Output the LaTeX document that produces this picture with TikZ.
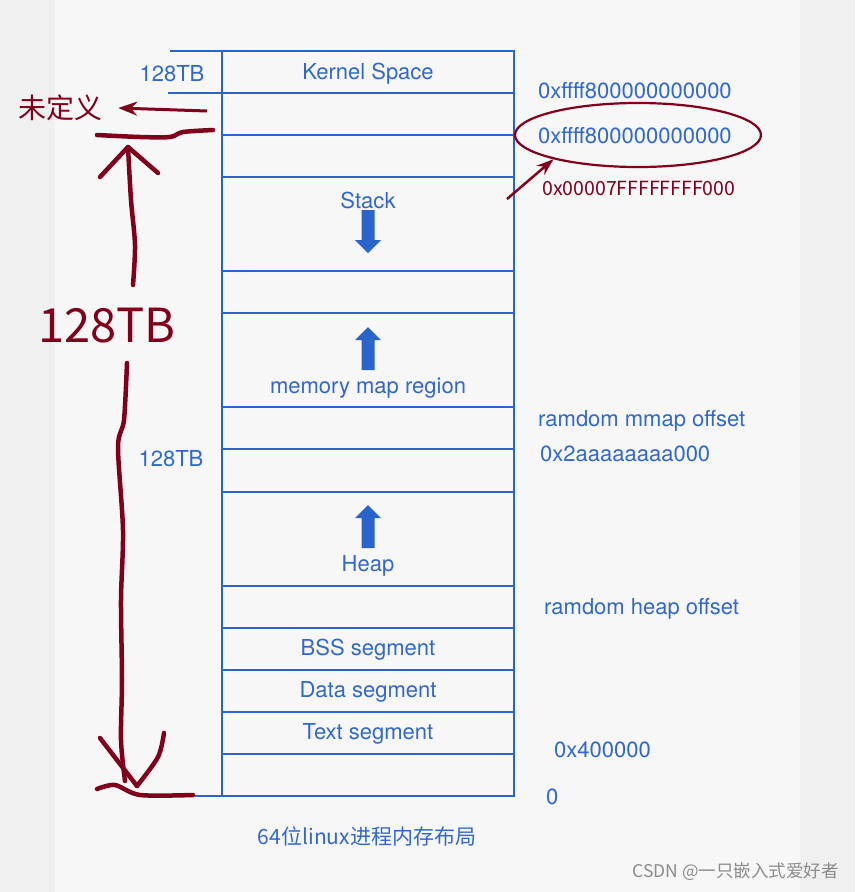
\documentclass[tikz,border=0pt]{standalone}
\usepackage{fontspec}
\setmainfont{TeX Gyre Heros}
\newfontfamily\cjk{Noto Sans CJK SC}
\usetikzlibrary{arrows.meta,shapes.geometric}
\definecolor{memblue}{RGB}{42,100,202}
\definecolor{txtblue}{RGB}{50,104,206}
\definecolor{hand}{RGB}{128,0,28}
\tikzset{
  seg/.style={font=\fontsize{22}{22}\selectfont, text=txtblue, inner sep=0pt, yshift=-2pt},
  addr/.style={seg, anchor=west},
  note/.style={font=\cjk, text=hand, inner sep=0pt},
  stroke/.style={draw=hand, line width=4.5pt, line cap=round, line join=round},
}
\begin{document}
\begin{tikzpicture}[x=1pt, y=-1pt, >={Stealth[length=15pt,width=11pt]}]
  % 背景
  \fill[black!6] (0,0) rectangle (855,892);
  \fill[black!3] (55,0) rectangle (800,892);
  \useasboundingbox (0,0) rectangle (855,892);
  % 地址空间
  \draw[memblue, line width=2pt] (222,51) rectangle (514,796);
  \foreach \y in {93,135,177,271,313,407,449,492,586,628,670,712,754}
    \draw[memblue, line width=2pt] (222,\y) -- (514,\y);
  \draw[memblue, line width=2pt] (170,51) -- (222,51) (168,93) -- (222,93) (195,796) -- (222,796);
  % 增长方向
  \foreach \tip/\s in {253/-1, 327/1, 505/1}
    \fill[memblue] (368,\tip) -- ++(13,13*\s) -- ++(-6.5,0) -- ++(0,30*\s) -- ++(-13,0)
      -- ++(0,-30*\s) -- ++(-6.5,0) -- cycle;
  % 段名
  \node[seg] (kernel) at (368,72) {Kernel Space};
  \node[seg] (stack) at (368,198) {Stack};
  \node[seg] (mmap) at (368,386) {memory map region};
  \node[seg] (heap) at (368,564) {Heap};
  \node[seg] (bss) at (368,648) {BSS segment};
  \node[seg] (data) at (368,690) {Data segment};
  \node[seg] (text) at (368,732) {Text segment};
  \node[seg] (tbk) at (172,72) {128TB};
  \node[seg] (tbu) at (171,457) {128TB};
  % 地址
  \node[addr] (kbase) at (538,89) {0xffff800000000000};
  \node[addr] (ktop) at (538,134) {0xffff800000000000};
  \node[addr] (mmoff) at (538,419) {ramdom mmap offset};
  \node[addr] (mmbase) at (540,452) {0x2aaaaaaaa000};
  \node[addr] (hpoff) at (544,607) {ramdom heap offset};
  \node[addr] (txbase) at (554,748) {0x400000};
  \node[addr] (zero) at (546,795) {0};
  \node[font=\cjk\fontsize{21}{21}\selectfont, text=txtblue] (cap) at (367,836) {64位linux进程内存布局};
  \node[font=\cjk\fontsize{17.5}{17.5}\selectfont, text=black!45, anchor=east, inner sep=0pt] (mark) at (839,872) {CSDN @一只嵌入式爱好者};
  % 手写批注
  \node[draw=hand, line width=2.2pt, ellipse, minimum width=246pt, minimum height=64pt] (hl) at (638,135) {};
  \node[note, font=\cjk\fontsize{19.5}{19.5}\selectfont, anchor=west] (uaddr) at (542,188) {0x00007FFFFFFFF000};
  \draw[hand, line width=2.5pt, -{Stealth[length=17pt,width=12pt]}] (507,199) -- (hl.196);
  \node[note, font=\cjk\fontsize{28}{28}\selectfont] (undef) at (61,108) {未定义};
  \draw[hand, line width=3pt, -{Stealth[length=19pt,width=14pt]}] (207,111) -- ([xshift=15pt]undef.east);
  \node[note, font=\cjk\fontsize{47}{47}\selectfont] (bigtb) at (107,326) {128TB};
  \coordinate (top) at (128,147);
  \coordinate (bot) at (125,781);
  \draw[stroke] plot[smooth] coordinates {(97,135) (140,137) (170,137) (183,132) (213,130)};
  \draw[stroke] plot[smooth] coordinates {(97,789) (115,785) (140,795) (193,795)};
  \draw[stroke] plot[smooth] coordinates {(top) (131,200) (135,245) (133,285)};
  \draw[stroke] plot[smooth] coordinates {(127,363) (124,420) (118,447) (123,530) (121,600) (122,680) (121,740) (bot)};
  \draw[stroke] (100,177) -- (top) -- (158,173);
  \draw[stroke] (100,738) -- (137,786);
  \draw[stroke] plot[smooth] coordinates {(164,733) (158,757) (137,786)};
\end{tikzpicture}
\end{document}
